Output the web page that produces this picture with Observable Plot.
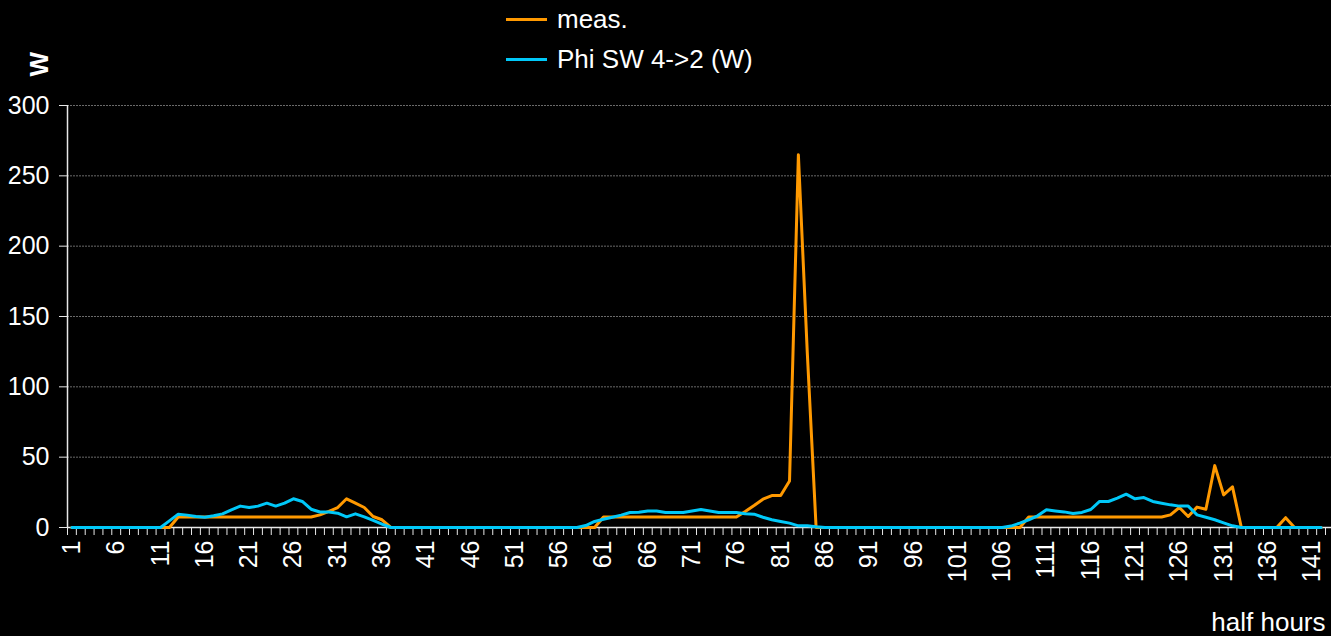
<!DOCTYPE html>
<html>
<head>
<meta charset="utf-8">
<script src="https://cdn.jsdelivr.net/npm/d3@7"></script>
<script src="https://cdn.jsdelivr.net/npm/@observablehq/plot@0.6"></script>
<style>
  html, body { margin: 0; padding: 0; background: #000; }
  #wrap { position: relative; width: 1331px; height: 636px; background: #000; font-family: "Liberation Sans", Arial, sans-serif; color: #fff; }
  .leg { position: absolute; left: 506px; display: flex; align-items: center; height: 30px; font-size: 26px; color: #fff; white-space: nowrap; }
  .sw { display: inline-block; width: 41px; height: 3px; margin-right: 10px; }
</style>
</head>
<body>
<div id="wrap"></div>
<script>
// categories (half hours)
const categories = d3.range(1, 143);
// x tick labels
const xLabels = [1, 6, 11, 16, 21, 26, 31, 36, 41, 46, 51, 56, 61, 66, 71, 76, 81, 86, 91, 96, 101, 106, 111, 116, 121, 126, 131, 136, 141];
// y tick labels
const yTicks = [0, 50, 100, 150, 200, 250, 300];

// series: meas.
const meas = [
  0, 0, 0, 0, 0, 0, 0, 0, 0, 0,
  0, 0, 7.5, 7.5, 7.5, 7.5, 7.5, 7.5, 7.5, 7.5,
  7.5, 7.5, 7.5, 7.5, 7.5, 7.5, 7.5, 7.5, 9, 11.4,
  14.2, 20.4, 17.3, 14.2, 7.8, 5.5, 0, 0, 0, 0,
  0, 0, 0, 0, 0, 0, 0, 0, 0, 0,
  0, 0, 0, 0, 0, 0, 0, 0, 0, 0,
  7.5, 7.5, 7.5, 7.5, 7.5, 7.5, 7.5, 7.5, 7.5, 7.5,
  7.5, 7.5, 7.5, 7.5, 7.5, 7.5, 11.4, 15.6, 20.1, 22.7,
  22.7, 33, 265, 125, 0, 0, 0, 0, 0, 0,
  0, 0, 0, 0, 0, 0, 0, 0, 0, 0,
  0, 0, 0, 0, 0, 0, 0, 0, 7.5, 7.5,
  7.5, 7.5, 7.5, 7.5, 7.5, 7.5, 7.5, 7.5, 7.5, 7.5,
  7.5, 7.5, 7.5, 7.5, 9, 14.2, 7.8, 14.5, 13, 44,
  23.2, 28.9, 0, 0, 0, 0, 0, 7, 0, 0,
  0, 0
];
// series: Phi SW 4->2 (W)
const phi = [
  0, 0, 0, 0, 0, 0, 0, 0, 0, 0,
  0, 4.7, 9.5, 8.8, 7.8, 7.3, 8.3, 9.7, 12.6, 15.2,
  14.2, 15.2, 17.3, 15.2, 17.3, 20.4, 18.5, 13, 11, 11,
  10.2, 7.6, 9.7, 7.6, 5, 2.4, 0, 0, 0, 0,
  0, 0, 0, 0, 0, 0, 0, 0, 0, 0,
  0, 0, 0, 0, 0, 0, 0, 0, 1.4, 4.3,
  5.9, 7.3, 8.8, 10.7, 10.9, 11.8, 11.8, 10.7, 10.7, 10.7,
  11.8, 12.8, 11.8, 10.7, 10.7, 10.7, 9.7, 9.5, 7.3, 5.5,
  4.3, 3.1, 1.2, 1.2, 0.5, 0, 0, 0, 0, 0,
  0, 0, 0, 0, 0, 0, 0, 0, 0, 0,
  0, 0, 0, 0, 0, 0, 1, 3.1, 5.5, 8.3,
  12.6, 11.8, 11.1, 10, 10.7, 12.8, 18.5, 18.5, 20.9, 23.7,
  20.4, 21.3, 18.5, 17.3, 16.1, 15.2, 15.2, 9, 7.3, 5.5,
  3.3, 1.2, 0, 0, 0, 0, 0, 0, 0, 0,
  0, 0
];

const data = categories.map((c, k) => ({ x: c, meas: meas[k], phi: phi[k] }));
// category boundaries for Excel-style tick marks
const boundaries = [categories[0] - 0.5, ...categories.map(c => c + 0.5)];

const chart = Plot.plot({
  width: 1331,
  height: 636,
  marginLeft: 67,
  marginRight: 6,
  marginTop: 105,
  marginBottom: 109,
  style: { background: "#000", color: "#fff", fontFamily: "'Liberation Sans', Arial, sans-serif", fontSize: "25px", overflow: "visible" },
  x: { type: "linear", domain: [categories[0] - 0.5, categories[categories.length - 1] + 0.5], axis: null },
  y: { domain: [0, 300], axis: null },
  marks: [
    Plot.ruleY(yTicks.filter(v => v > 0), { stroke: "#6a6a6a", strokeWidth: 1, strokeDasharray: "2,1", insetRight: -6 }),
    Plot.axisY(yTicks, { tickSize: 8, tickPadding: 10, fontSize: 25, stroke: "#e8e8e8", label: null }),
    Plot.axisX(boundaries, { tickSize: 8, tickFormat: () => "", stroke: "#e8e8e8", label: null }),
    Plot.ruleX([categories[0] - 0.5], { stroke: "#e8e8e8", strokeWidth: 1.5 }),
    Plot.ruleY([0], { stroke: "#e8e8e8", strokeWidth: 1.5, insetRight: -6 }),
    Plot.line(data, { x: "x", y: "meas", stroke: "#FF9900", strokeWidth: 3 }),
    Plot.line(data, { x: "x", y: "phi", stroke: "#00C8F8", strokeWidth: 3 }),
    Plot.text(xLabels, { x: d => d, frameAnchor: "bottom", dy: 13, rotate: -90, textAnchor: "end", lineAnchor: "middle", fill: "#fff", fontSize: 25 }),
    Plot.text(["W"], { frameAnchor: "top-left", dx: -38, dy: -29, rotate: -90, fontWeight: "bold", fontSize: 26, fill: "#fff" }),
    Plot.text(["half hours"], { frameAnchor: "bottom-right", textAnchor: "end", dy: 103, fontSize: 26, fill: "#fff" })
  ]
});

const wrap = document.getElementById("wrap");
wrap.appendChild(chart);

const legendItems = [
  { label: "meas.", color: "#FF9900", top: 4 },
  { label: "Phi SW 4->2 (W)", color: "#00C8F8", top: 44 }
];
for (const it of legendItems) {
  const row = document.createElement("div");
  row.className = "leg";
  row.style.top = it.top + "px";
  const sw = document.createElement("span");
  sw.className = "sw";
  sw.style.background = it.color;
  row.appendChild(sw);
  const t = document.createElement("span");
  t.textContent = it.label;
  row.appendChild(t);
  wrap.appendChild(row);
}
</script>
</body>
</html>
